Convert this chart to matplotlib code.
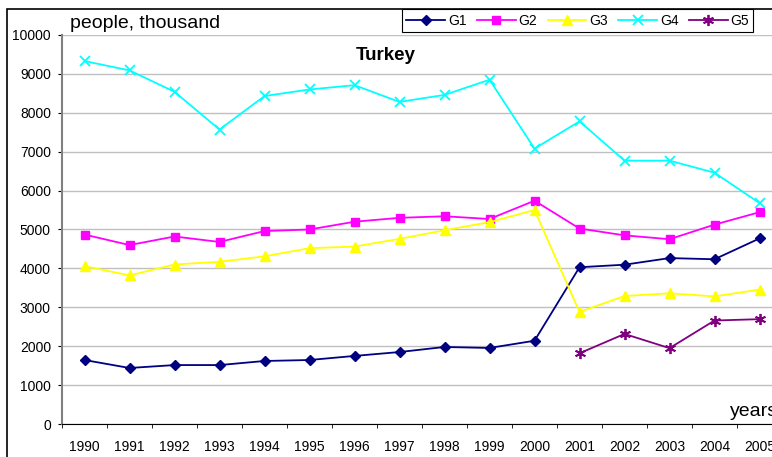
import matplotlib.pyplot as plt
from matplotlib.patches import Rectangle
from matplotlib.ticker import FixedLocator

plt.rcParams['font.family'] = ['Liberation Sans', 'DejaVu Sans']

years = ['1990', '1991', '1992', '1993', '1994', '1995', '1996', '1997',
         '1998', '1999', '2000', '2001', '2002', '2003', '2004', '2005']
g1 = [1645, 1440, 1515, 1515, 1620, 1645, 1750, 1850, 1980, 1955, 2140,
      4030, 4095, 4265, 4235, 4770]
g2 = [4870, 4600, 4820, 4680, 4960, 5000, 5200, 5300, 5340, 5270, 5740,
      5025, 4850, 4750, 5125, 5445]
g3 = [4060, 3820, 4100, 4170, 4310, 4520, 4560, 4760, 4980, 5190, 5500,
      2880, 3290, 3360, 3280, 3455]
g4 = [9330, 9090, 8540, 7570, 8430, 8600, 8710, 8280, 8460, 8850, 7080,
      7780, 6770, 6770, 6460, 5680]
g5_years = years[11:]
g5 = [1818, 2315, 1950, 2660, 2695]

W, H = 772, 457
fig = plt.figure(figsize=(W / 100, H / 100), dpi=100)
ax = fig.add_axes([62 / W, 33 / H, 720 / W, 389 / H])

x = list(range(len(years)))
x5 = [years.index(y) for y in g5_years]

ax.plot(x, g1, color='#000080', marker='D', markersize=5.5, lw=1.3, label='G1')
ax.plot(x, g2, color='#FF00FF', marker='s', markersize=6, lw=1.3, label='G2')
ax.plot(x, g3, color='#FFFF00', marker='^', markersize=6.5, lw=1.3, label='G3')
ax.plot(x, g4, color='#00FFFF', marker='x', markersize=7, mew=1.3, lw=1.3, label='G4')
ax.plot(x5, g5, color='#800080', marker=(6, 2, 0), markersize=8, mew=1.3, lw=1.3, label='G5')

ax.set_xlim(-0.5, len(years) - 0.5)
ax.set_ylim(0, 10000)
ax.set_yticks(range(0, 10001, 1000))
ax.yaxis.grid(True, color='#C0C0C0', lw=1)
ax.set_axisbelow(True)

ax.set_xticks(x)
ax.set_xticklabels(years)
ax.xaxis.set_minor_locator(FixedLocator([i - 0.5 for i in range(len(years) + 1)]))
ax.tick_params(axis='x', which='major', length=0, pad=11.5, labelsize=10)
ax.tick_params(axis='x', which='minor', length=3, direction='out')
ax.tick_params(axis='y', length=3, labelsize=10, pad=5)

for s in ['top', 'right']:
    ax.spines[s].set_visible(False)
ax.spines['left'].set_color('#808080')
ax.spines['left'].set_linewidth(1.5)
ax.spines['bottom'].set_color('black')

fig.text(70 / W, 1 - 24 / H, 'people, thousand', fontsize=14, va='center', ha='left')
fig.text(386 / W, 1 - 56 / H, 'Turkey', fontsize=13.5, fontweight='bold', va='center', ha='center')
fig.text(730 / W, 1 - 411 / H, 'years', fontsize=14, va='center', ha='left')

leg = fig.legend(loc='upper left', bbox_to_anchor=(402 / W, 1 - 9.5 / H), ncol=5,
                 fontsize=10, frameon=True, fancybox=False, framealpha=1,
                 edgecolor='black', borderpad=0.3, handlelength=2.8,
                 handletextpad=0.2, columnspacing=0.75, borderaxespad=0)
leg.get_frame().set_linewidth(0.8)

fig.add_artist(Rectangle((7 / W, -0.1), 1.2, 1 - 9 / H + 0.1, transform=fig.transFigure,
                         fill=False, edgecolor='black', lw=1.2))

fig.savefig('out.png', dpi=100)
